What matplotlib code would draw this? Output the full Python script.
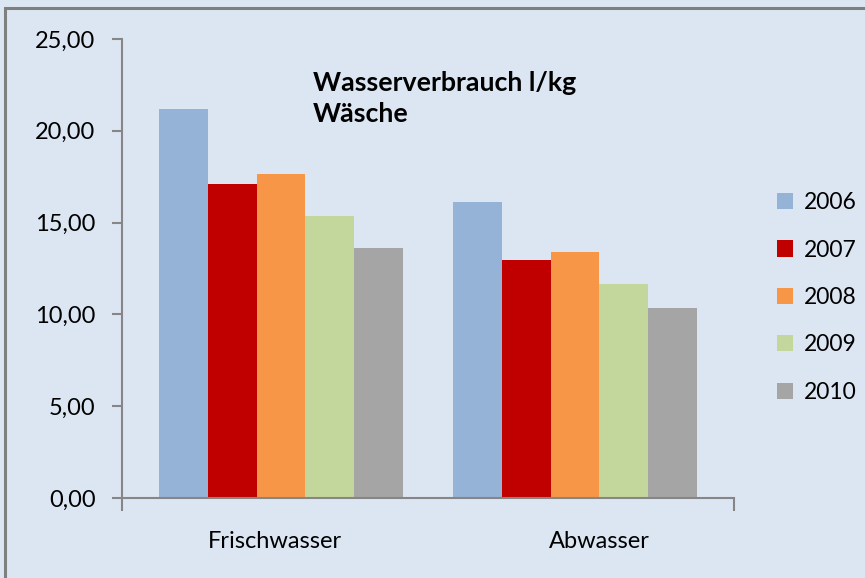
import matplotlib
matplotlib.use("Agg")
import matplotlib.pyplot as plt
import numpy as np
from matplotlib.patches import Rectangle

categories = ["Frischwasser", "Abwasser"]
years = ["2006", "2007", "2008", "2009", "2010"]
v2006 = [21.2, 16.1]
v2007 = [17.1, 12.95]
v2008 = [17.65, 13.4]
v2009 = [15.35, 11.65]
v2010 = [13.6, 10.35]
series = [v2006, v2007, v2008, v2009, v2010]
colors = ["#95b3d7", "#c00000", "#f79646", "#c3d69b", "#a5a5a5"]
yticks = [0, 5, 10, 15, 20, 25]
ytick_labels = ["0,00", "5,00", "10,00", "15,00", "20,00", "25,00"]
title = "Wasserverbrauch l/kg\nWäsche"

plt.rcParams['font.family'] = ['Lato', 'DejaVu Sans']
W, H = 865, 578
fig = plt.figure(figsize=(W / 100, H / 100), dpi=100)
bg = "#dce6f2"
fig.patch.set_facecolor(bg)
fig.patches.append(Rectangle((5 / W, -0.1), 1.2, 1 - 8 / H + 0.1, transform=fig.transFigure,
                             fill=False, edgecolor="#7f7f7f", linewidth=2.2, zorder=0))

ax = fig.add_axes([122 / W, 1 - 498 / H, (734 - 122) / W, (498 - 39) / H])
ax.set_facecolor(bg)

group_centers = np.array([0.02, 0.98])
bw = 0.159
for i, (vals, c) in enumerate(zip(series, colors)):
    ax.bar(group_centers + (i - 2) * bw, vals, width=bw, color=c, label=years[i], zorder=2)

ax.set_xlim(-0.5, 1.5)
ax.set_ylim(0, 25)
ax.set_yticks(yticks)
ax.set_yticklabels(ytick_labels, fontsize=17)
ax.set_xticks([0.0, 1.06])
ax.set_xticklabels(categories, fontsize=17)
ax.tick_params(axis='x', length=0, pad=24)
ax.tick_params(axis='y', length=7, color="#868686", width=1.5, pad=12)
for s in ["top", "right"]:
    ax.spines[s].set_visible(False)
for s in ["left", "bottom"]:
    ax.spines[s].set_color("#868686")
    ax.spines[s].set_linewidth(1.5)

# category boundary ticks on x axis
ax.set_xticks([-0.5, 1.5], minor=True)
ax.tick_params(axis='x', which='minor', length=9, color="#868686", width=1.5)

fig.text(313 / W, 1 - 71 / H, title, fontsize=19.3, fontweight='bold',
         ha='left', va='top', linespacing=1.36)

leg = fig.legend(loc='upper left', bbox_to_anchor=(768 / W, 1 - 183 / H), frameon=False,
                 fontsize=16.5, handlelength=0.7, handleheight=0.7, handletextpad=0.45,
                 labelspacing=1.15, borderaxespad=0)

fig.savefig("out.png", dpi=100, facecolor=bg)
